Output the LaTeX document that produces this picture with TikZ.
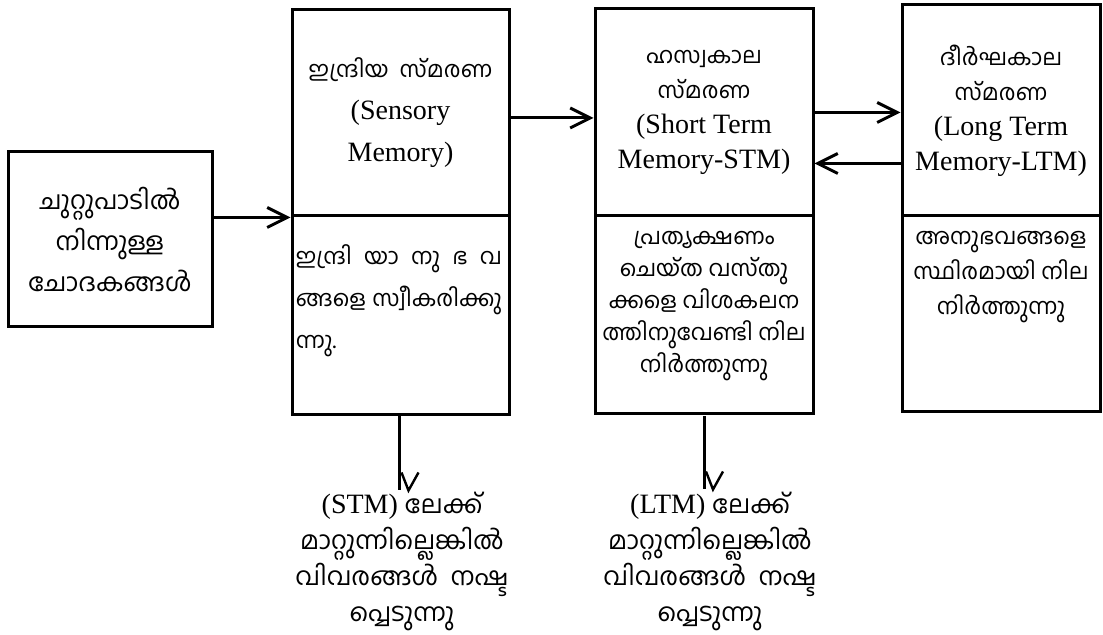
\documentclass[tikz,border=0pt]{standalone}
\usepackage{fontspec}
\setmainfont{Liberation Serif}
\newfontfamily\mal[Script=Malayalam,Scale=0.9]{Hind Kochi}
\newcommand\malbox{\mal\fontsize{12.5}{17}\selectfont}
\usetikzlibrary{arrows.meta,calc}

\begin{document}
\begin{tikzpicture}[x=0.5pt,y=-0.5pt,
  box/.style={draw,line width=1.5pt,inner sep=0pt,align=center},
  conn/.style={line width=1.5pt,-{Straight Barb[length=10pt,width=10pt,line width=1.5pt]}}]
\useasboundingbox (0,0) rectangle (1103,635);
% stimuli from the surroundings
\node[box,minimum width=102pt,minimum height=87.5pt,font=\mal\fontsize{14}{20.5}\selectfont] (stim) at (110,239.5)
  {ചുറ്റുപാടിൽ\\നിന്നുള്ള\\ചോദകങ്ങൾ};
% the three stores, upper and lower part
\node[box,minimum width=108.5pt,minimum height=103pt,font=\fontsize{14}{21}\selectfont] (sensT) at (400.5,113)
  {{\malbox ഇന്ദ്രിയ\ \ സ്മരണ}\\(Sensory\\Memory)};
\node[box,minimum width=108.5pt,minimum height=99.5pt] (sensB) at (400.5,315.5) {};
\node[box,minimum width=109pt,minimum height=103.5pt,font=\fontsize{14}{17.5}\selectfont] (stmT) at (704,112.5)
  {{\malbox ഹസ്വകാല}\\{\malbox സ്മരണ}\\(Short Term\\Memory-STM)};
\node[box,minimum width=109pt,minimum height=99pt] (stmB) at (704,315) {};
\node[box,minimum width=99pt,minimum height=105.5pt,font=\fontsize{14}{17.5}\selectfont] (ltmT) at (1001,110.5)
  {{\malbox ദീർഘകാല}\\{\malbox സ്മരണ}\\(Long Term\\Memory-LTM)};
\node[box,minimum width=99pt,minimum height=98pt] (ltmB) at (1001,314) {};
% what each store does
\node[anchor=north west,inner sep=0pt,align=left,font=\mal\fontsize{12.5}{21}\selectfont]
  (sensTxt) at ([xshift=2.5pt,yshift=-15pt]sensB.north west)
  {\makebox[103pt][s]{ഇന്ദ്രി യാ നു ഭ വ}\\\makebox[103pt][s]{ങ്ങളെ സ്വീകരിക്കു}\\ന്നു.};
\node[anchor=north,inner sep=0pt,align=center,font=\mal\fontsize{12.5}{16}\selectfont]
  (stmTxt) at ([yshift=-8pt]stmB.north) {പ്രത്യക്ഷണം\\ചെയ്ത വസ്തു\\ക്കളെ വിശകലന\\ത്തിനുവേണ്ടി നില\\നിർത്തുന്നു};
\node[anchor=north,inner sep=0pt,align=center,font=\mal\fontsize{12.5}{17.5}\selectfont]
  (ltmTxt) at ([yshift=-8pt]ltmB.north) {അനുഭവങ്ങളെ\\സ്ഥിരമായി നില\\നിർത്തുന്നു};
% arrows between the stores
\draw[conn] (stim.east |- sensT.south west) -- (sensT.south west);
\draw[conn] ([yshift=-2.5pt]sensT.east) -- ([yshift=-2.5pt]sensT.east -| stmT.west);
\draw[conn] (stmT.east) -- (stmT.east -| ltmT.west);
\draw[conn] ([yshift=-26.5pt]ltmT.west) -- ([yshift=-26.5pt]ltmT.west -| stmT.east);
% information that is lost
\coordinate (sensDrop) at ($(sensB.south)+(-1,74)$);
\coordinate (stmDrop) at ($(stmB.south)+(0,74)$);
\foreach \d in {sensDrop,stmDrop} {
  \draw[line width=1.5pt] (\d |- sensB.south) -- (\d);
  \draw[line width=1.2pt] ($(\d)+(2,-18)$) -- ($(\d)+(9,0)$) -- ($(\d)+(19,-18)$);
}
\node[align=center,font=\fontsize{14}{18}\selectfont] (sensLoss) at (402,561)
  {(STM)\ {\mal ലേക്ക്}\\{\mal മാറ്റുന്നില്ലെങ്കിൽ}\\{\mal വിവരങ്ങൾ\ \ നഷ്ട}\\{\mal പ്പെടുന്നു}};
\node[align=center,font=\fontsize{14}{18}\selectfont] (stmLoss) at (710,561)
  {(LTM)\ {\mal ലേക്ക്}\\{\mal മാറ്റുന്നില്ലെങ്കിൽ}\\{\mal വിവരങ്ങൾ\ \ നഷ്ട}\\{\mal പ്പെടുന്നു}};
\end{tikzpicture}
\end{document}
